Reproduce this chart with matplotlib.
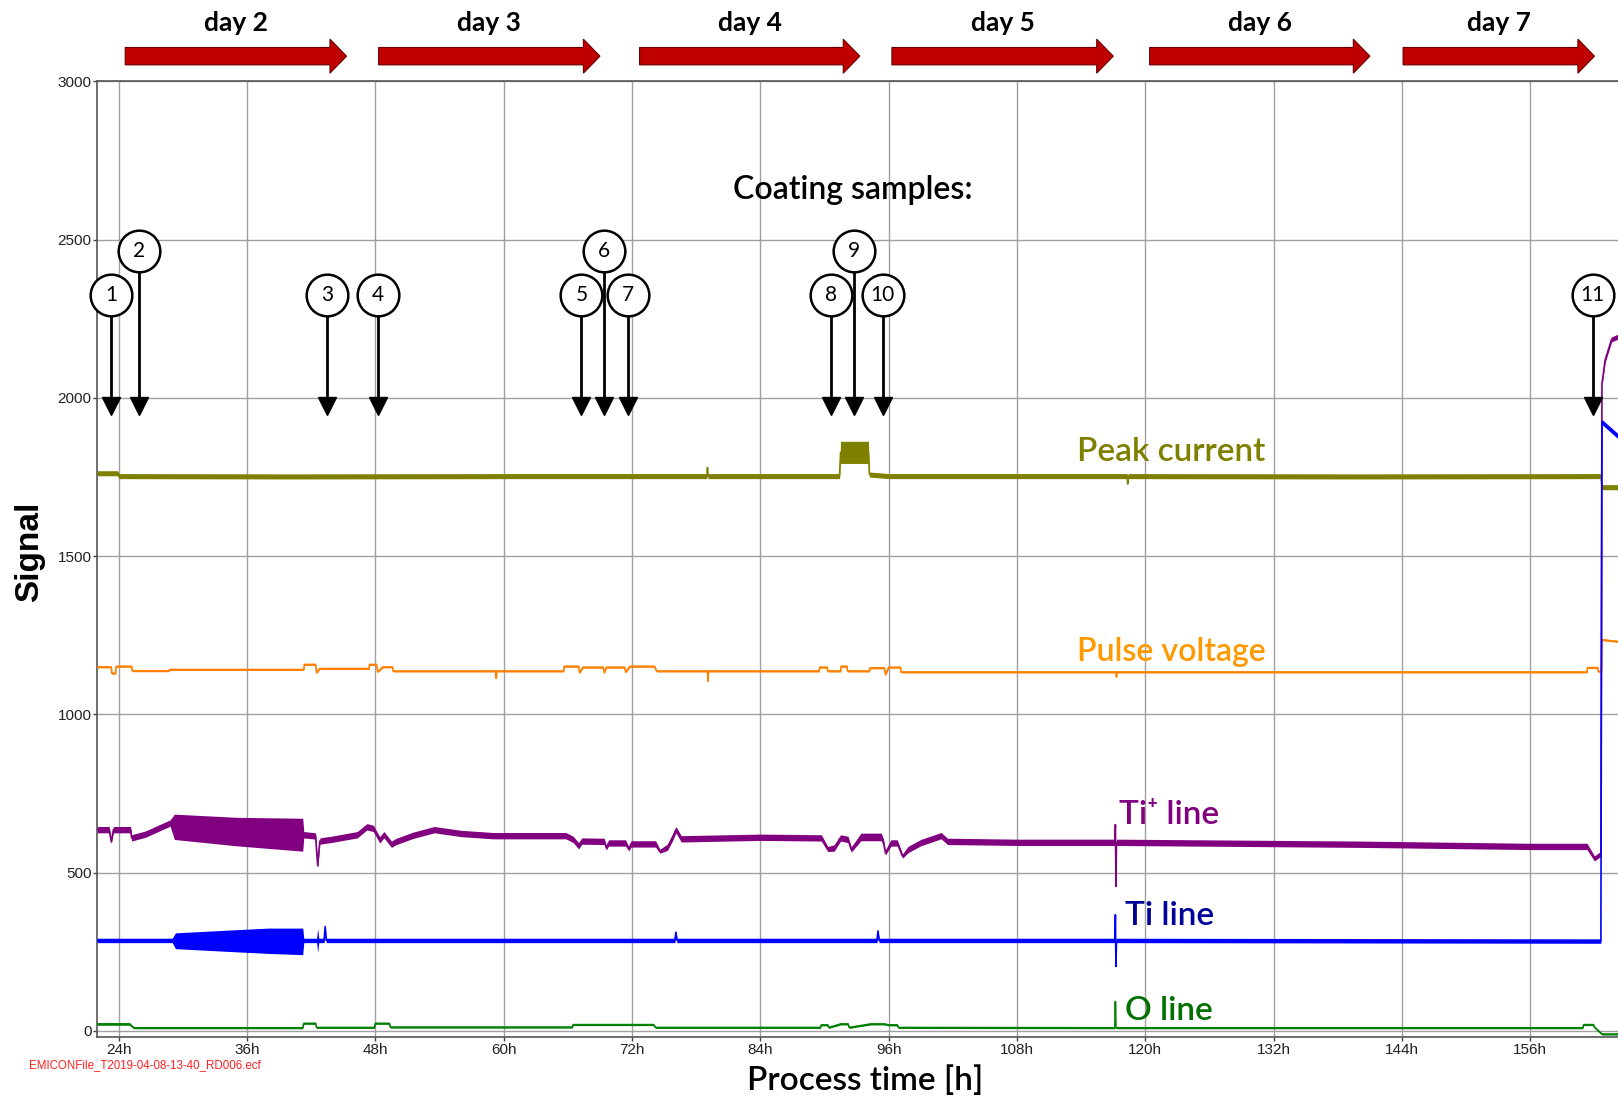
import numpy as np
import matplotlib
matplotlib.use("Agg")
from matplotlib import pyplot as plt
from matplotlib.patches import Polygon

# ---- signal traces (hours, centre value, half width of the noise band) ----
peak_h = [22, 23.9, 24.0, 40, 60, 79.0, 79.05, 79.1, 91.4, 91.5, 94.1, 94.2, 96,
          118.3, 118.35, 118.4, 140, 162.6, 162.7, 164.3]
peak_v = [1762, 1762, 1753, 1752, 1753, 1753, 1780, 1753, 1753, 1828, 1828, 1758, 1753,
          1753, 1728, 1753, 1752, 1753, 1718, 1718]
peak_s = [8, 8, 8, 8, 8, 8, 0, 8, 8, 35, 35, 8, 8,
          8, 0, 8, 8, 8, 8, 8]

pulse_h = [22, 23.3, 23.35, 23.7, 23.75, 25.2, 25.25, 28.7, 28.75, 41.3, 41.35, 42.4,
           42.5, 42.8, 47.4, 47.45, 48.1, 48.2, 48.7, 49.6, 49.65, 59.25, 59.3, 59.35,
           65.6, 65.65, 67.0, 67.1, 67.4, 69.3, 69.4, 69.6, 71.3, 71.4, 71.8, 74.1,
           74.3, 79.05, 79.1, 79.15, 89.5, 89.55, 90.25, 90.3, 91.5, 91.55, 92.1,
           92.15, 94.2, 94.25, 95.6, 95.7, 96.0, 97.1, 97.15, 117.25, 117.3, 117.35,
           161.3, 161.35, 162.3, 162.35, 162.65, 162.7, 164.3]
pulse_v = [1150, 1150, 1130, 1130, 1152, 1152, 1138, 1138, 1142, 1142, 1158, 1158,
           1132, 1145, 1145, 1158, 1158, 1135, 1150, 1150, 1137, 1137, 1114, 1137,
           1137, 1152, 1152, 1132, 1149, 1149, 1132, 1149, 1149, 1134, 1152, 1152,
           1137, 1137, 1105, 1137, 1137, 1149, 1149, 1137, 1137, 1152, 1152,
           1137, 1137, 1147, 1147, 1126, 1149, 1149, 1134, 1134, 1118, 1134,
           1134, 1148, 1148, 1136, 1136, 1236, 1230]

tip_h = [22, 23.1, 23.3, 23.5, 25.1, 25.2, 26.5, 28.8, 29.2, 35, 41.2, 41.3, 42.4,
         42.6, 42.8, 44, 46.3, 47.2, 47.8, 48.4, 48.8, 49.5, 49.9, 51.5, 53.5, 56, 59,
         65.8, 66.5, 67, 67.3, 69.4, 69.6, 69.8, 71.4, 71.7, 71.9, 74.2, 74.6, 75.3,
         75.8, 76.1, 76.6, 84, 89.7, 90.3, 90.9, 91.5, 92.2, 92.5, 93.4, 95.3, 95.5,
         95.7, 96.2, 96.8, 97.3, 97.8, 99, 100.9, 101.5, 108, 117.15, 117.2, 117.25,
         117.3, 140, 156, 161.3, 162, 162.6, 162.7, 163.0, 163.6, 164.3]
tip_v = [636, 636, 598, 636, 636, 610, 622, 657, 645, 630, 620, 620, 616,
         522, 600, 606, 620, 645, 640, 604, 620, 590, 598, 618, 636, 624, 617,
         617, 605, 585, 600, 599, 578, 594, 594, 575, 591, 591, 568, 580,
         612, 636, 607, 612, 610, 575, 578, 610, 605, 573, 613, 613, 598,
         562, 594, 594, 552, 573, 595, 617, 599, 596, 596, 652, 457,
         596, 590, 583, 583, 545, 560, 2045, 2120, 2185, 2195]
tip_s = [10, 10, 6, 10, 10, 10, 10, 10, 40, 45, 52, 10, 10,
         6, 10, 10, 10, 10, 10, 10, 10, 10, 10, 10, 10, 10, 10,
         10, 10, 10, 10, 10, 6, 10, 10, 6, 10, 10, 6, 10,
         10, 10, 10, 10, 10, 8, 10, 10, 10, 8, 12, 12, 10,
         6, 10, 10, 6, 10, 10, 10, 10, 10, 10, 0, 0,
         10, 10, 10, 10, 8, 8, 8, 8, 8, 8]

ti_h = [22, 29.0, 29.3, 35, 38, 41.2, 41.3, 42.5, 42.6, 42.7, 43.2, 43.3, 43.4, 76.0,
        76.1, 76.2, 94.9, 95.0, 95.1, 117.15, 117.2, 117.25, 117.3, 162.6, 162.7, 164.3]
ti_v = [286, 286, 285, 285, 285, 283, 286, 286, 286, 286, 286, 330, 286, 286,
        312, 286, 286, 316, 286, 286, 367, 204, 286, 284, 1924, 1876]
ti_s = [7, 7, 25, 35, 40, 42, 7, 7, 38, 7, 7, 4, 7, 7,
        4, 7, 7, 4, 7, 7, 0, 0, 7, 7, 8, 8]

o_h = [22, 25.0, 25.4, 41.2, 41.3, 42.4, 42.5, 47.9, 48.0, 49.3, 49.4, 66.4, 66.5,
       74.0, 74.2, 89.6, 89.7, 90.3, 90.4, 91.5, 92.2, 92.3, 94.3, 95.6, 96.0, 96.8,
       96.9, 117.15, 117.2, 117.25, 160.9, 161.0, 161.9, 162.0, 162.7, 164.3]
o_v = [22, 22, 10, 10, 24, 24, 11, 11, 24, 24, 12, 12, 20,
       20, 11, 11, 19, 19, 11, 22, 22, 11, 22, 22, 19, 19,
       11, 10, 93, 10, 10, 20, 20, 12, -10, -10]
o_s = [4, 4, 3, 3, 3, 3, 3, 3, 3, 3, 3, 3, 3,
       3, 3, 3, 3, 3, 3, 3, 3, 3, 3, 3, 3, 3,
       3, 3, 0, 3, 3, 3, 3, 3, 3, 3]

# ---- annotations ----
days = ["day 2", "day 3", "day 4", "day 5", "day 6", "day 7"]
day_start = [24.6, 48.3, 72.7, 96.3, 120.4, 144.1]
day_end = [45.3, 69.0, 93.3, 117.0, 141.0, 162.0]

sample_ids = ["1", "2", "3", "4", "5", "6", "7", "8", "9", "10", "11"]
sample_h = [23.3, 25.88, 43.45, 48.23, 67.27, 69.37, 71.61, 90.63, 92.75, 95.45, 161.85]
sample_y = [2324, 2463, 2324, 2324, 2324, 2463, 2324, 2324, 2463, 2324, 2324]

xticks = list(range(24, 157, 12))
yticks = list(range(0, 3001, 500))

GILL = ["Lato", "DejaVu Sans"]
ARIAL = ["Liberation Sans", "DejaVu Sans"]

fig = plt.figure(figsize=(16.18, 11.0), dpi=100)
ax = fig.add_axes([0.060, 0.057, 0.940, 0.869])


def trace(h, v, s, color):
    h = np.array(h, dtype=float)
    v = np.array(v, dtype=float)
    s = np.array(s, dtype=float)
    ax.fill_between(h, v - s, v + s, color=color, lw=0, zorder=3)
    ax.plot(h, v, color=color, lw=1.2, zorder=3)


trace(peak_h, peak_v, peak_s, "#808000")
trace(pulse_h, pulse_v, [3] * len(pulse_h), "#FF8000")
trace(tip_h, tip_v, tip_s, "#800080")
trace(ti_h, ti_v, ti_s, "#0000FF")
trace(o_h, o_v, o_s, "#008000")

ax.set_xlim(21.97, 164.2)
ax.set_ylim(-20, 3000)
ax.set_xticks(xticks)
ax.set_xticklabels([f"{t}h" for t in xticks], family=ARIAL, fontsize=11, color="#222222")
ax.set_yticks(yticks)
ax.set_yticklabels([str(t) for t in yticks], family=ARIAL, fontsize=11, color="#222222")
ax.tick_params(length=3, width=1, color="#444444", pad=1)
ax.grid(True, color="#a0a0a0", lw=1)
ax.set_axisbelow(True)
ax.spines["right"].set_visible(False)
for sp in ["left", "bottom", "top"]:
    ax.spines[sp].set_color("#555555")
    ax.spines[sp].set_linewidth(1.2)

# day arrows above the plot
tr = ax.get_xaxis_transform()
for name, x0, x1 in zip(days, day_start, day_end):
    xh = x1 - 1.55
    yc, bh, hh = 1.0264, 0.0091, 0.0178
    pts = [(x0, yc - bh), (xh, yc - bh), (xh, yc - hh), (x1, yc),
           (xh, yc + hh), (xh, yc + bh), (x0, yc + bh)]
    ax.add_patch(Polygon(pts, closed=True, transform=tr, facecolor="#C00000",
                         edgecolor="#6a0000", lw=0.8, clip_on=False, zorder=5))
    ax.text((x0 + x1) / 2, 1.0615, name, transform=tr, ha="center", va="center",
            family=GILL, fontsize=19, fontweight="bold", clip_on=False)

# coating samples
ax.text(92.64, 2628, "Coating samples:", ha="center", va="baseline",
        family=GILL, fontsize=23, fontweight="semibold", zorder=6)
for sid, sx, sy in zip(sample_ids, sample_h, sample_y):
    ax.plot([sx, sx], [sy, 2000], color="black", lw=2, zorder=6)
    ax.plot(sx, 1974, marker="v", markersize=12.5, color="black", zorder=6)
    ax.plot(sx, sy, marker="o", markersize=30, markerfacecolor="white",
            markeredgecolor="black", markeredgewidth=1.8, zorder=7, clip_on=False)
    ax.text(sx, sy, sid, ha="center", va="center", family=GILL, fontsize=15, zorder=8)

# series labels
ax.text(113.6, 1802, "Peak current", color="#808000", family=GILL, fontsize=24,
        fontweight="semibold", va="baseline", zorder=6)
ax.text(113.6, 1170, "Pulse voltage", color="#FF9900", family=GILL, fontsize=23,
        fontweight="semibold", va="baseline", zorder=6)
ax.text(117.5, 655, "Ti\u207a line", color="#800080", family=GILL, fontsize=24,
        fontweight="semibold", va="baseline", zorder=6)
ax.text(118.1, 336, "Ti line", color="#000099", family=GILL, fontsize=24,
        fontweight="semibold", va="baseline", zorder=6)
ax.text(118.1, 36, "O line", color="#007000", family=GILL, fontsize=24,
        fontweight="semibold", va="baseline", zorder=6)

fig.text(0.018, 0.498, "Signal", rotation=90, ha="center", va="center",
         family=ARIAL, fontsize=24, fontweight="bold")
fig.text(0.5345, 0.018, "Process time [h]", ha="center", va="center",
         family=GILL, fontsize=24, fontweight="semibold")
fig.text(0.018, 0.032, "EMICONFile_T2019-04-08-13-40_RD006.ecf", ha="left", va="center",
         family=ARIAL, fontsize=8.3, color="#FF2020")

fig.savefig("out.png", dpi=100)
